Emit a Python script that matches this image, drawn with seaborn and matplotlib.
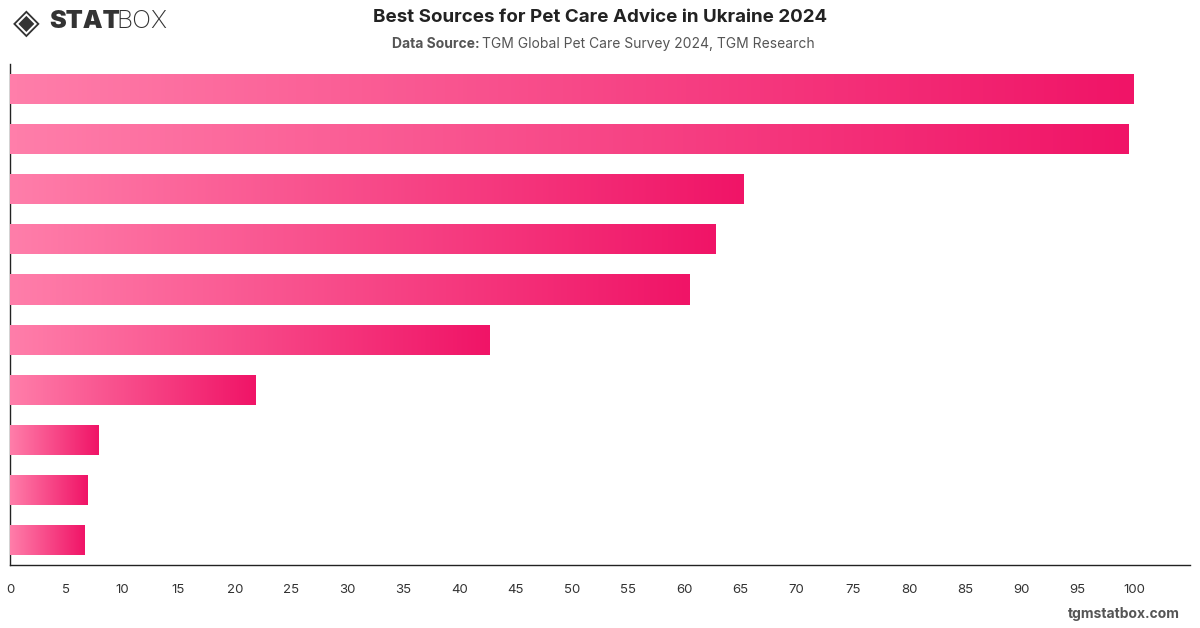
import numpy as np
import pandas as pd
import matplotlib
matplotlib.use('Agg')
import matplotlib.pyplot as plt
import seaborn as sns
from matplotlib.colors import LinearSegmentedColormap

# values (category names are not shown in the picture)
sources = ['Source 1', 'Source 2', 'Source 3', 'Source 4', 'Source 5',
           'Source 6', 'Source 7', 'Source 8', 'Source 9', 'Source 10']
scores = [100, 99.5, 65.3, 62.8, 60.5, 42.7, 21.8, 7.9, 6.9, 6.6]
x_ticks = list(range(0, 101, 5))

df = pd.DataFrame({'source': sources, 'score': scores})

sns.set_style('white')
plt.rcParams['font.family'] = ['Inter', 'DejaVu Sans']

fig = plt.figure(figsize=(12, 6.28), dpi=100)
ax = fig.add_axes([0.0083, 0.1003, 0.9834, 0.7977])

sns.barplot(data=df, x='score', y='source', orient='h', width=0.6,
            color='#f5497f', ax=ax)

# gradient fill for every bar, clipped to the bar itself
cmap = LinearSegmentedColormap.from_list('pink', ['#ff7eaa', '#f01467'])
grad = np.linspace(0, 1, 256).reshape(1, -1)
for p in ax.patches:
    x0, y0 = p.get_x(), p.get_y()
    w, h = p.get_width(), p.get_height()
    im = ax.imshow(grad, cmap=cmap, aspect='auto', extent=[x0, x0 + w, y0 + h, y0],
                   zorder=3, interpolation='bicubic')
    im.set_clip_path(p)
    p.set_facecolor('none')
    p.set_edgecolor('none')

ax.set_xlim(0, 105)
ax.set_ylim(9.5, -0.5)
ax.set_xticks(x_ticks)
ax.set_xticklabels([str(t) for t in x_ticks], fontsize=9.5, color='#333333')
ax.set_yticks([])
ax.set_xlabel('')
ax.set_ylabel('')
ax.tick_params(axis='x', length=0, pad=14)
for s in ['top', 'right']:
    ax.spines[s].set_visible(False)
for s in ['left', 'bottom']:
    ax.spines[s].set_color('#222222')
    ax.spines[s].set_linewidth(1)

fig.text(0.5, 0.972, 'Best Sources for Pet Care Advice in Ukraine 2024',
         ha='center', va='center', fontsize=13.5, fontweight='bold', color='#222222')
fig.text(0.402, 0.930, 'Data Source: ', ha='right', va='center', fontsize=10,
         fontweight='bold', color='#555555')
fig.text(0.402, 0.930, 'TGM Global Pet Care Survey 2024, TGM Research',
         ha='left', va='center', fontsize=10, color='#555555')

# logo
fig.text(0.011, 0.964, '\u25c8', ha='left', va='center', fontsize=25,
         color='#333333', family=['DejaVu Sans'])
stat = fig.text(0.041, 0.965, 'STAT', ha='left', va='center', fontsize=18,
                fontweight='black', color='#333333')
fig.canvas.draw()
bb = stat.get_window_extent().transformed(fig.transFigure.inverted())
fig.text(bb.x1 - 0.003, 0.965, 'BOX', ha='left', va='center', fontsize=18,
         fontweight='light', color='#333333')

fig.text(0.983, 0.022, 'tgmstatbox.com', ha='right', va='center', fontsize=10,
         fontweight='bold', color='#555555')

fig.savefig('out.png', dpi=100)
